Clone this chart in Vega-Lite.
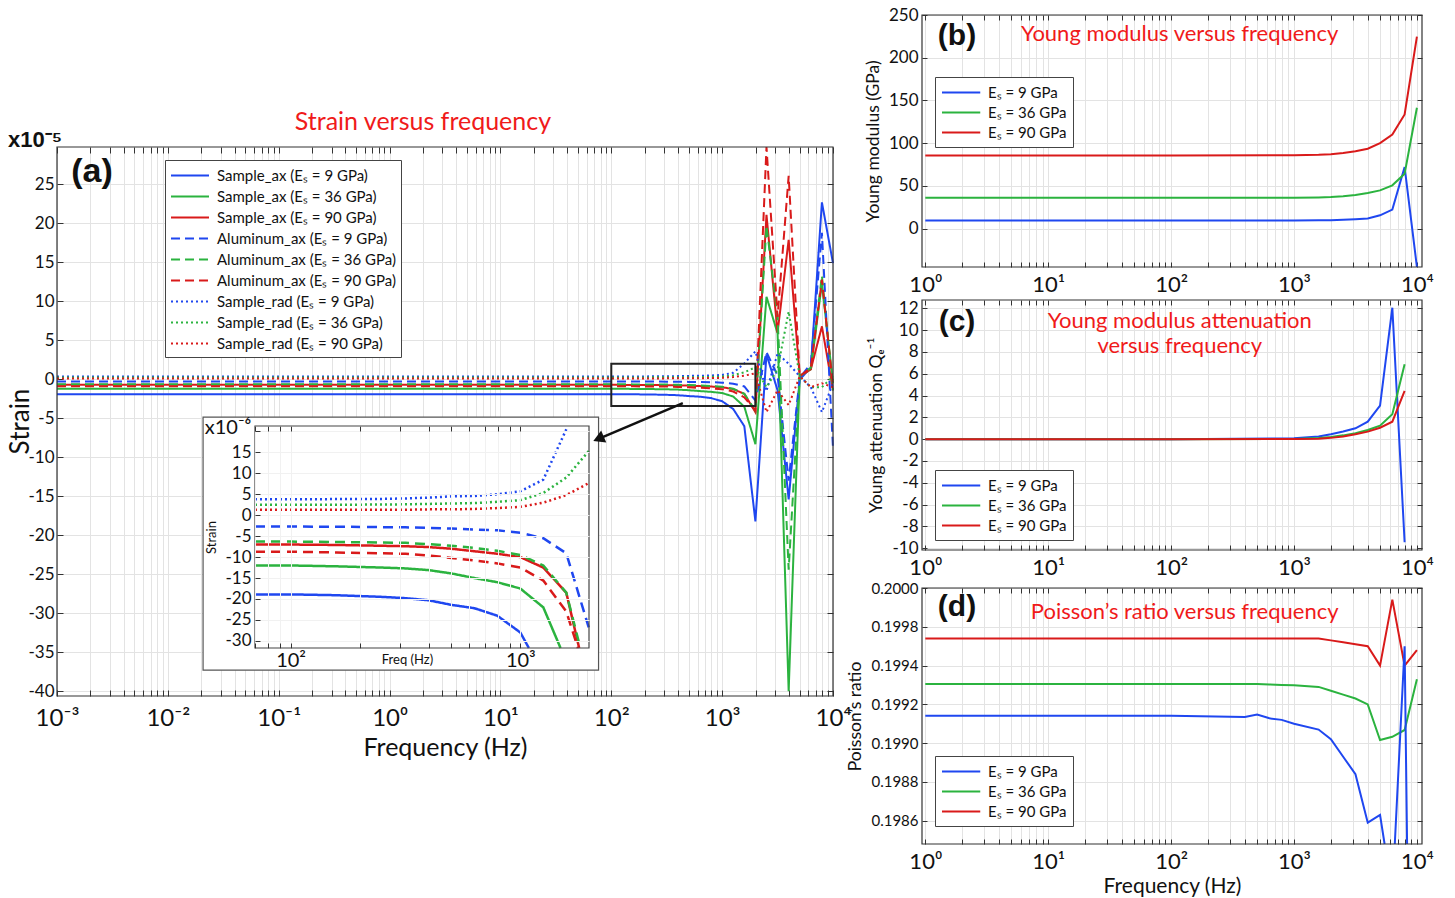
{
"$schema": "https://vega.github.io/schema/vega-lite/v6.json",
"width": 1455, "height": 898,
"autosize": {"type": "none"},
"padding": 0,
"resolve": {"scale": {"x": "independent", "y": "independent", "color": "independent", "strokeDash": "independent"}, "axis": {"x": "independent", "y": "independent"}, "legend": {"color": "independent", "strokeDash": "independent"}},
"datasets": {
"main": [
{"f": 0.001, "sax9": -1.89, "sax36": -1.20, "sax90": -0.70, "alx9": -0.27, "alx36": -0.63, "alx90": -0.87, "srad9": 0.38, "srad36": 0.25, "srad90": 0.13},
{"f": 1, "sax9": -1.89, "sax36": -1.20, "sax90": -0.70, "alx9": -0.27, "alx36": -0.63, "alx90": -0.87, "srad9": 0.38, "srad36": 0.25, "srad90": 0.13},
{"f": 100, "sax9": -1.89, "sax36": -1.20, "sax90": -0.70, "alx9": -0.27, "alx36": -0.63, "alx90": -0.87, "srad9": 0.38, "srad36": 0.25, "srad90": 0.13},
{"f": 158.5, "sax9": -1.91, "sax36": -1.22, "sax90": -0.71, "alx9": -0.28, "alx36": -0.64, "alx90": -0.89, "srad9": 0.38, "srad36": 0.25, "srad90": 0.13},
{"f": 251.2, "sax9": -1.95, "sax36": -1.25, "sax90": -0.73, "alx9": -0.28, "alx36": -0.65, "alx90": -0.91, "srad9": 0.39, "srad36": 0.26, "srad90": 0.13},
{"f": 316.2, "sax9": -1.98, "sax36": -1.27, "sax90": -0.74, "alx9": -0.29, "alx36": -0.66, "alx90": -0.92, "srad9": 0.40, "srad36": 0.26, "srad90": 0.13},
{"f": 398.1, "sax9": -2.03, "sax36": -1.31, "sax90": -0.76, "alx9": -0.30, "alx36": -0.69, "alx90": -0.96, "srad9": 0.42, "srad36": 0.27, "srad90": 0.14},
{"f": 501.2, "sax9": -2.14, "sax36": -1.39, "sax90": -0.80, "alx9": -0.32, "alx36": -0.73, "alx90": -1.02, "srad9": 0.45, "srad36": 0.28, "srad90": 0.14},
{"f": 631, "sax9": -2.22, "sax36": -1.50, "sax90": -0.86, "alx9": -0.34, "alx36": -0.78, "alx90": -1.08, "srad9": 0.46, "srad36": 0.29, "srad90": 0.15},
{"f": 794.3, "sax9": -2.40, "sax36": -1.60, "sax90": -0.92, "alx9": -0.36, "alx36": -0.85, "alx90": -1.15, "srad9": 0.50, "srad36": 0.32, "srad90": 0.17},
{"f": 1000, "sax9": -2.80, "sax36": -1.75, "sax90": -1.00, "alx9": -0.42, "alx36": -0.95, "alx90": -1.25, "srad9": 0.57, "srad36": 0.36, "srad90": 0.20},
{"f": 1258.9, "sax9": -3.80, "sax36": -2.20, "sax90": -1.25, "alx9": -0.55, "alx36": -1.20, "alx90": -1.56, "srad9": 0.85, "srad36": 0.53, "srad90": 0.30},
{"f": 1584.9, "sax9": -6.0, "sax36": -3.5, "sax90": -1.85, "alx9": -0.91, "alx36": -1.85, "alx90": -2.30, "srad9": 2.05, "srad36": 0.90, "srad90": 0.48},
{"f": 1995.3, "sax9": -18.2, "sax36": -8.3, "sax90": -4.2, "alx9": -2.7, "alx36": -4.0, "alx90": -4.0, "srad9": 3.6, "srad36": 1.55, "srad90": 0.78},
{"f": 2511.9, "sax9": 3.2, "sax36": 10.6, "sax90": 21.1, "alx9": 3.5, "alx36": 19.7, "alx90": 29.8, "srad9": -1.5, "srad36": -1.0, "srad90": -4.2},
{"f": 3162.3, "sax9": -1.4, "sax36": 5.9, "sax90": 6.0, "alx9": 0.5, "alx36": 8.0, "alx90": 8.0, "srad9": 3.3, "srad36": 1.3, "srad90": -1.4},
{"f": 3981.1, "sax9": -15.4, "sax36": -40.0, "sax90": 17.9, "alx9": -13.0, "alx36": -24.4, "alx90": 26.1, "srad9": 2.0, "srad36": 8.7, "srad90": -3.3},
{"f": 5011.9, "sax9": 0.0, "sax36": 0.4, "sax90": 0.4, "alx9": 0.2, "alx36": 0.4, "alx90": 0.4, "srad9": 0.4, "srad36": 0.4, "srad90": 0.4},
{"f": 6309.6, "sax9": 1.5, "sax36": 1.3, "sax90": 1.3, "alx9": 2.0, "alx36": 1.5, "alx90": 1.5, "srad9": -1.0, "srad36": -1.0, "srad90": -1.0},
{"f": 7943.3, "sax9": 22.7, "sax36": 12.3, "sax90": 6.8, "alx9": 18.8, "alx36": 13.3, "alx90": 12.8, "srad9": -4.2, "srad36": -1.0, "srad90": -0.5},
{"f": 10000, "sax9": 14.9, "sax36": -0.5, "sax90": -1.4, "alx9": -8.8, "alx36": -1.4, "alx90": -1.0, "srad9": -0.5, "srad36": 0.4, "srad90": -1.0}
],
"inset": [
{"f": 70, "sax9": -18.9, "sax36": -12.0, "sax90": -7.0, "alx9": -2.7, "alx36": -6.3, "alx90": -8.7, "srad9": 3.8, "srad36": 2.5, "srad90": 1.3},
{"f": 100, "sax9": -18.9, "sax36": -12.0, "sax90": -7.0, "alx9": -2.7, "alx36": -6.3, "alx90": -8.7, "srad9": 3.8, "srad36": 2.5, "srad90": 1.3},
{"f": 158.5, "sax9": -19.1, "sax36": -12.2, "sax90": -7.1, "alx9": -2.75, "alx36": -6.4, "alx90": -8.9, "srad9": 3.85, "srad36": 2.5, "srad90": 1.3},
{"f": 251.2, "sax9": -19.5, "sax36": -12.5, "sax90": -7.3, "alx9": -2.85, "alx36": -6.5, "alx90": -9.1, "srad9": 3.9, "srad36": 2.55, "srad90": 1.3},
{"f": 316.2, "sax9": -19.8, "sax36": -12.7, "sax90": -7.4, "alx9": -2.9, "alx36": -6.6, "alx90": -9.2, "srad9": 4.0, "srad36": 2.6, "srad90": 1.3},
{"f": 398.1, "sax9": -20.3, "sax36": -13.1, "sax90": -7.6, "alx9": -3.0, "alx36": -6.9, "alx90": -9.6, "srad9": 4.2, "srad36": 2.7, "srad90": 1.4},
{"f": 501.2, "sax9": -21.4, "sax36": -13.9, "sax90": -8.0, "alx9": -3.2, "alx36": -7.3, "alx90": -10.2, "srad9": 4.5, "srad36": 2.8, "srad90": 1.4},
{"f": 631, "sax9": -22.2, "sax36": -15.0, "sax90": -8.6, "alx9": -3.4, "alx36": -7.8, "alx90": -10.8, "srad9": 4.6, "srad36": 2.9, "srad90": 1.5},
{"f": 794.3, "sax9": -24.0, "sax36": -16.0, "sax90": -9.2, "alx9": -3.6, "alx36": -8.5, "alx90": -11.5, "srad9": 5.0, "srad36": 3.2, "srad90": 1.7},
{"f": 1000, "sax9": -28.0, "sax36": -17.5, "sax90": -10.0, "alx9": -4.2, "alx36": -9.5, "alx90": -12.5, "srad9": 5.7, "srad36": 3.6, "srad90": 2.0},
{"f": 1089, "sax9": -31.7},
{"f": 1258.9, "sax36": -22.0, "sax90": -12.5, "alx9": -5.5, "alx36": -12.0, "alx90": -15.6, "srad9": 8.5, "srad36": 5.3, "srad90": 3.0},
{"f": 1496, "sax36": -31.7},
{"f": 1584.9, "sax90": -18.5, "alx9": -9.1, "alx36": -18.5, "alx90": -23.0, "srad9": 20.5, "srad36": 9.0, "srad90": 4.8},
{"f": 1782, "alx90": -31.7},
{"f": 1803, "sax90": -31.7},
{"f": 1824, "alx36": -31.7},
{"f": 1990, "alx9": -27.0, "srad36": 15.4, "srad90": 7.7}
],
"b": [
{"f": 1, "e9": 9.3, "e36": 36.0, "e90": 85.5},
{"f": 10, "e9": 9.3, "e36": 36.0, "e90": 85.5},
{"f": 100, "e9": 9.3, "e36": 36.0, "e90": 85.5},
{"f": 1000, "e9": 9.5, "e36": 36.2, "e90": 85.8},
{"f": 1584.9, "e9": 9.7, "e36": 36.5, "e90": 86.3},
{"f": 1995.3, "e9": 9.8, "e36": 36.9, "e90": 87.0},
{"f": 2511.9, "e9": 10.2, "e36": 37.8, "e90": 88.5},
{"f": 3162.3, "e9": 10.8, "e36": 39.3, "e90": 90.5},
{"f": 3981.1, "e9": 11.7, "e36": 41.6, "e90": 93.4},
{"f": 5011.9, "e9": 15.5, "e36": 44.7, "e90": 100.0},
{"f": 6309.6, "e9": 22.2, "e36": 50.6, "e90": 110.0},
{"f": 7943.3, "e9": 72.0, "e36": 64.2, "e90": 133.5},
{"f": 10000, "e9": -45.0, "e36": 141.4, "e90": 224.6}
],
"c": [
{"f": 1, "e9": 0, "e36": 0, "e90": 0},
{"f": 10, "e9": 0, "e36": 0, "e90": 0},
{"f": 100, "e9": 0, "e36": 0, "e90": 0},
{"f": 1000, "e9": 0.08, "e36": 0.02, "e90": 0.01},
{"f": 1584.9, "e9": 0.25, "e36": 0.1, "e90": 0.05},
{"f": 1995.3, "e9": 0.45, "e36": 0.2, "e90": 0.12},
{"f": 2511.9, "e9": 0.7, "e36": 0.35, "e90": 0.25},
{"f": 3162.3, "e9": 1.0, "e36": 0.55, "e90": 0.45},
{"f": 3981.1, "e9": 1.6, "e36": 0.84, "e90": 0.69},
{"f": 5011.9, "e9": 3.07, "e36": 1.24, "e90": 1.05},
{"f": 6309.6, "e9": 12.05, "e36": 2.28, "e90": 1.6},
{"f": 7943.3, "e9": -9.45, "e36": 6.86, "e90": 4.42}
],
"d": [
{"f": 1, "e9a": 0.199141, "e36": 0.199305, "e90": 0.19954},
{"f": 100, "e9a": 0.199141, "e36": 0.199305, "e90": 0.19954},
{"f": 398.1, "e9a": 0.199135, "e36": 0.199305, "e90": 0.19954},
{"f": 501.2, "e9a": 0.199148, "e36": 0.199305, "e90": 0.19954},
{"f": 631, "e9a": 0.199128, "e36": 0.199303, "e90": 0.19954},
{"f": 794.3, "e9a": 0.19912, "e36": 0.1993, "e90": 0.19954},
{"f": 1000, "e9a": 0.1991, "e36": 0.199298, "e90": 0.19954},
{"f": 1584.9, "e9a": 0.19907, "e36": 0.19929, "e90": 0.19954},
{"f": 1995.3, "e9a": 0.19902, "e36": 0.19927, "e90": 0.19953},
{"f": 2511.9, "e9a": 0.19893, "e36": 0.19925, "e90": 0.19952},
{"f": 3162.3, "e9a": 0.19884, "e36": 0.19923, "e90": 0.19951},
{"f": 3981.1, "e9a": 0.19859, "e36": 0.1992, "e90": 0.1995},
{"f": 5011.9, "e9a": 0.19863, "e36": 0.199016, "e90": 0.1994},
{"f": 5458, "e9a": 0.19848},
{"f": 6309.6, "e36": 0.199033, "e90": 0.19974},
{"f": 6607, "e9b": 0.19848},
{"f": 7943.3, "e9b": 0.1995, "e36": 0.199068, "e90": 0.1994},
{"f": 8318, "e9b": 0.19848},
{"f": 10000, "e36": 0.199329, "e90": 0.19948}
]
},
"layer": [
{
"encoding": {
"x": {"field": "f", "type": "quantitative", "scale": {"type": "log", "domain": [0.001, 10000], "range": [57, 833], "nice": false},
"axis": {"orient": "bottom", "offset": -202, "values": [0.001,0.002,0.003,0.004,0.005,0.006,0.007,0.008,0.009,0.01,0.02,0.03,0.04,0.05,0.06,0.07,0.08,0.09,0.1,0.2,0.3,0.4,0.5,0.6,0.7,0.8,0.9,1,2,3,4,5,6,7,8,9,10,20,30,40,50,60,70,80,90,100,200,300,400,500,600,700,800,900,1000,2000,3000,4000,5000,6000,7000,8000,9000,10000],
"labelExpr": "abs(log(datum.value)/LN10 - round(log(datum.value)/LN10)) < 0.01 ? '10' + ['⁻³','⁻²','⁻¹','⁰','¹','²','³','⁴'][round(log(datum.value)/LN10)+3] : ''",
"labelFontSize": 24, "tickSize": -6, "labelPadding": 16, "grid": false, "domain": false, "title": "Frequency (Hz)", "titleFontSize": 25, "titlePadding": 5}},
"y": {"field": "v", "type": "quantitative", "scale": {"domain": [-40.6, 29.8], "range": [696, 147], "nice": false, "zero": false},
"axis": {"orient": "left", "offset": -57, "values": [-40,-35,-30,-25,-20,-15,-10,-5,0,5,10,15,20,25], "labelExpr": "datum.value + ''", "labelFontSize": 17, "tickSize": -6, "labelPadding": 9, "grid": true, "domain": false, "title": "Strain", "titleFontSize": 26, "titleX": -37, "titleY": 421, "titleBaseline": "middle", "titleAlign": "center", "titleAngle": -90}}
},
"layer": [
{
"data": {"name": "main"},
"transform": [{"fold": ["sax9","sax36","sax90","alx9","alx36","alx90","srad9","srad36","srad90"], "as": ["s", "v"]}, {"filter": "isValid(datum.v)"}],
"mark": {"type": "line", "strokeWidth": 2},
"encoding": {
"color": {"field": "s", "type": "nominal",
"scale": {"domain": ["sax9","sax36","sax90","alx9","alx36","alx90","srad9","srad36","srad90"], "range": ["#1f47f0","#2bb33f","#d91a1a","#1f47f0","#2bb33f","#d91a1a","#1f47f0","#2bb33f","#d91a1a"]},
"legend": {"orient": "none", "legendX": 165, "legendY": 160, "title": null, "symbolType": "M-1,0H3", "symbolSize": 361, "symbolStrokeWidth": 2, "labelFontSize": 15, "labelLimit": 300, "rowPadding": 2, "padding": 5, "strokeColor": "#444", "fillColor": "#ffffff", "labelOffset": 26,
"labelExpr": "{'sax9':'Sample_ax (Eₛ = 9 GPa)','sax36':'Sample_ax (Eₛ = 36 GPa)','sax90':'Sample_ax (Eₛ = 90 GPa)','alx9':'Aluminum_ax (Eₛ = 9 GPa)','alx36':'Aluminum_ax (Eₛ = 36 GPa)','alx90':'Aluminum_ax (Eₛ = 90 GPa)','srad9':'Sample_rad (Eₛ = 9 GPa)','srad36':'Sample_rad (Eₛ = 36 GPa)','srad90':'Sample_rad (Eₛ = 90 GPa)'}[datum.label]"}},
"strokeDash": {"field": "s", "type": "nominal",
"scale": {"domain": ["sax9","sax36","sax90","alx9","alx36","alx90","srad9","srad36","srad90"], "range": [[1,0],[1,0],[1,0],[9,5],[9,5],[9,5],[2,3],[2,3],[2,3]]},
"legend": {"orient": "none", "legendX": 165, "legendY": 160, "title": null, "symbolType": "M-1,0H3", "symbolSize": 361, "symbolStrokeWidth": 2, "labelFontSize": 15, "labelLimit": 300, "rowPadding": 2, "padding": 5, "strokeColor": "#444", "fillColor": "#ffffff", "labelOffset": 26,
"labelExpr": "{'sax9':'Sample_ax (Eₛ = 9 GPa)','sax36':'Sample_ax (Eₛ = 36 GPa)','sax90':'Sample_ax (Eₛ = 90 GPa)','alx9':'Aluminum_ax (Eₛ = 9 GPa)','alx36':'Aluminum_ax (Eₛ = 36 GPa)','alx90':'Aluminum_ax (Eₛ = 90 GPa)','srad9':'Sample_rad (Eₛ = 9 GPa)','srad36':'Sample_rad (Eₛ = 36 GPa)','srad90':'Sample_rad (Eₛ = 90 GPa)'}[datum.label]"}}
}
},
{
"data": {"values": [{"f": 100, "f2": 1995, "v": -3.4, "v2": 2.0}]},
"mark": {"type": "rect", "fill": "transparent", "stroke": "#222", "strokeWidth": 2},
"encoding": {"x2": {"field": "f2"}, "y2": {"field": "v2"}}
},
{
"data": {"values": [{"f": 0.00207, "v": 26.6, "t": "(a)"}]},
"mark": {"type": "text", "font": "Liberation Sans", "fontWeight": "bold", "fontSize": 34, "align": "center", "baseline": "middle", "color": "#111"},
"encoding": {"text": {"field": "t"}}
},
{
"data": {"values": [{"f": 0.000634, "v": 30.7, "t": "x10⁻⁵"}]},
"mark": {"type": "text", "font": "Liberation Sans", "fontWeight": "bold", "fontSize": 22, "align": "center", "baseline": "middle", "color": "#111"},
"encoding": {"text": {"field": "t"}}
},
{
"data": {"values": [{"f": 2.0, "v": 33.0, "t": "Strain versus frequency"}]},
"mark": {"type": "text", "fontSize": 25, "align": "center", "baseline": "middle", "color": "#f01a1a"},
"encoding": {"text": {"field": "t"}}
}
]
},
{
"data": {"values": [{"f": 0.001, "f2": 10000, "v": -40.6, "v2": 29.8}]},
"mark": {"type": "rect", "fill": "transparent", "stroke": "#333", "strokeWidth": 1.2},
"encoding": {
"x": {"field": "f", "type": "quantitative", "scale": {"type": "log", "domain": [0.001, 10000], "range": [57, 833], "nice": false},
"axis": {"orient": "top", "offset": -147, "values": [0.001,0.002,0.003,0.004,0.005,0.006,0.007,0.008,0.009,0.01,0.02,0.03,0.04,0.05,0.06,0.07,0.08,0.09,0.1,0.2,0.3,0.4,0.5,0.6,0.7,0.8,0.9,1,2,3,4,5,6,7,8,9,10,20,30,40,50,60,70,80,90,100,200,300,400,500,600,700,800,900,1000,2000,3000,4000,5000,6000,7000,8000,9000,10000], "labels": false, "tickSize": -6, "grid": true, "domain": false, "title": null}},
"x2": {"field": "f2"},
"y": {"field": "v", "type": "quantitative", "scale": {"domain": [-40.6, 29.8], "range": [696, 147], "nice": false, "zero": false},
"axis": {"orient": "right", "offset": -622, "values": [-40,-35,-30,-25,-20,-15,-10,-5,0,5,10,15,20,25], "labels": false, "tickSize": -6, "grid": false, "domain": false, "title": null}},
"y2": {"field": "v2"}
}
},
{
"encoding": {
"x": {"field": "f", "type": "quantitative", "scale": {"type": "log", "domain": [70, 1990], "range": [255, 589], "nice": false},
"axis": {"orient": "bottom", "offset": -250, "zindex": 2, "values": [70,80,90,100,200,300,400,500,600,700,800,900,1000], "labelExpr": "datum.value == 100 ? '10²' : (datum.value == 1000 ? '10³' : '')", "tickSize": -5, "labelPadding": 7, "labelFontSize": 20, "grid": false, "domain": false, "title": "Freq (Hz)", "titleFontSize": 13, "titleX": 407, "titleY": 11, "titleBaseline": "middle", "titleAlign": "center"}},
"y": {"field": "v", "type": "quantitative", "scale": {"domain": [-31.7, 21.3], "range": [648, 426], "nice": false, "zero": false},
"axis": {"orient": "left", "offset": -255, "zindex": 2, "values": [-30,-25,-20,-15,-10,-5,0,5,10,15,20], "labelExpr": "datum.value == 20 ? '' : datum.value + ''", "tickSize": -5, "labelPadding": 9, "labelFontSize": 17, "grid": true, "gridColor": "#f1f1f1", "domain": false, "title": "Strain", "titleFontSize": 13, "titlePadding": 6}}
},
"layer": [
{
"data": {"values": [{"f": 41.6, "f2": 2190, "v": -37, "v2": 23.4}]},
"mark": {"type": "rect", "fill": "#ffffff", "stroke": "#555", "strokeWidth": 1.2},
"encoding": {"x2": {"field": "f2"}, "y2": {"field": "v2"}}
},
{
"data": {"name": "inset"},
"transform": [{"fold": ["sax9","sax36","sax90","alx9","alx36","alx90","srad9","srad36","srad90"], "as": ["s", "v"]}, {"filter": "isValid(datum.v)"}],
"mark": {"type": "line", "strokeWidth": 2.5},
"encoding": {
"color": {"field": "s", "type": "nominal", "legend": null,
"scale": {"domain": ["sax9","sax36","sax90","alx9","alx36","alx90","srad9","srad36","srad90"], "range": ["#1f47f0","#2bb33f","#d91a1a","#1f47f0","#2bb33f","#d91a1a","#1f47f0","#2bb33f","#d91a1a"]}},
"strokeDash": {"field": "s", "type": "nominal", "legend": null,
"scale": {"domain": ["sax9","sax36","sax90","alx9","alx36","alx90","srad9","srad36","srad90"], "range": [[1,0],[1,0],[1,0],[10,6],[10,6],[10,6],[2,3],[2,3],[2,3]]}}
}
},
{
"data": {"values": [{"f": 53.4, "v": 20.8, "t": "x10⁻⁶"}]},
"mark": {"type": "text", "fontSize": 20, "align": "center", "baseline": "middle", "color": "#111"},
"encoding": {"text": {"field": "t"}}
}
]
},
{
"data": {"values": [{"f": 70, "f2": 1990, "v": -31.7, "v2": 21.3}]},
"mark": {"type": "rect", "fill": "transparent", "stroke": "#444", "strokeWidth": 1.2},
"encoding": {
"x": {"field": "f", "type": "quantitative", "scale": {"type": "log", "domain": [70, 1990], "range": [255, 589], "nice": false},
"axis": {"orient": "top", "offset": -426, "zindex": 2, "values": [70,80,90,100,200,300,400,500,600,700,800,900,1000], "labels": false, "tickSize": -5, "grid": true, "gridColor": "#f1f1f1", "domain": false, "title": null}},
"x2": {"field": "f2"},
"y": {"field": "v", "type": "quantitative", "scale": {"domain": [-31.7, 21.3], "range": [648, 426], "nice": false, "zero": false}, "axis": null},
"y2": {"field": "v2"}
}
},
{
"encoding": {
"x": {"field": "f", "type": "quantitative", "scale": {"type": "log", "domain": [0.001, 10000], "range": [57, 833], "nice": false}, "axis": null},
"y": {"field": "v", "type": "quantitative", "scale": {"domain": [-40.6, 29.8], "range": [696, 147], "nice": false, "zero": false}, "axis": null}
},
"layer": [
{
"data": {"values": [{"f": 442, "v": -3.04, "f2": 76.7, "v2": -7.62}]},
"mark": {"type": "rule", "color": "#111", "strokeWidth": 2.5},
"encoding": {"x2": {"field": "f2"}, "y2": {"field": "v2"}}
},
{
"data": {"values": [{"f": 76.7, "v": -7.62}]},
"mark": {"type": "point", "shape": "triangle-up", "angle": 247, "filled": true, "color": "#111", "size": 170, "opacity": 1}
}
]
},
{
"encoding": {
"x": {"field": "f", "type": "quantitative", "scale": {"type": "log", "domain": [0.94, 11000], "range": [922, 1422], "nice": false},
"axis": {"orient": "bottom", "offset": -631, "values": [1,2,3,4,5,6,7,8,9,10,20,30,40,50,60,70,80,90,100,200,300,400,500,600,700,800,900,1000,2000,3000,4000,5000,6000,7000,8000,9000,10000], "labelExpr": "abs(log(datum.value)/LN10 - round(log(datum.value)/LN10)) < 0.01 ? '10' + ['⁰','¹','²','³','⁴'][round(log(datum.value)/LN10)] : ''", "labelFontSize": 22, "tickSize": -5, "labelPadding": 12, "grid": false, "domain": false, "title": null}},
"y": {"field": "v", "type": "quantitative", "scale": {"domain": [-45, 250], "range": [267, 15], "nice": false, "zero": false},
"axis": {"orient": "left", "offset": -922, "values": [0,50,100,150,200,250], "labelExpr": "datum.value + ''", "labelFontSize": 17, "tickSize": -5, "labelPadding": 9, "grid": true, "domain": false, "title": "Young modulus (GPa)", "titleFontSize": 17.5, "titlePadding": 6}}
},
"layer": [
{
"data": {"name": "b"},
"transform": [{"fold": ["e9","e36","e90"], "as": ["s", "v"]}],
"mark": {"type": "line", "strokeWidth": 2},
"encoding": {"color": {"field": "s", "type": "nominal", "scale": {"domain": ["e9","e36","e90"], "range": ["#1f47f0","#2bb33f","#d91a1a"]},
"legend": {"orient": "none", "legendX": 935, "legendY": 77, "title": null, "symbolType": "M-1,0H3.5", "symbolSize": 289, "symbolStrokeWidth": 2, "labelFontSize": 15, "rowPadding": 2, "padding": 6, "strokeColor": "#444", "fillColor": "#ffffff", "labelOffset": 28, "labelExpr": "{'e9':'Eₛ = 9 GPa','e36':'Eₛ = 36 GPa','e90':'Eₛ = 90 GPa'}[datum.label]"}}}
},
{
"data": {"values": [{"f": 1.81, "v": 226, "t": "(b)"}]},
"mark": {"type": "text", "font": "Liberation Sans", "fontWeight": "bold", "fontSize": 30, "align": "center", "baseline": "middle", "color": "#111"},
"encoding": {"text": {"field": "t"}}
},
{
"data": {"values": [{"f": 117.6, "v": 228, "t": "Young modulus versus frequency"}]},
"mark": {"type": "text", "fontSize": 22, "align": "center", "baseline": "middle", "color": "#f01a1a"},
"encoding": {"text": {"field": "t"}}
}
]
},
{
"data": {"values": [{"f": 0.94, "f2": 11000, "v": -45, "v2": 250}]},
"mark": {"type": "rect", "fill": "transparent", "stroke": "#333", "strokeWidth": 1.2},
"encoding": {
"x": {"field": "f", "type": "quantitative", "scale": {"type": "log", "domain": [0.94, 11000], "range": [922, 1422], "nice": false},
"axis": {"orient": "top", "offset": -15, "values": [1,2,3,4,5,6,7,8,9,10,20,30,40,50,60,70,80,90,100,200,300,400,500,600,700,800,900,1000,2000,3000,4000,5000,6000,7000,8000,9000,10000], "labels": false, "tickSize": -5, "grid": true, "domain": false, "title": null}},
"x2": {"field": "f2"},
"y": {"field": "v", "type": "quantitative", "scale": {"domain": [-45, 250], "range": [267, 15], "nice": false, "zero": false},
"axis": {"orient": "right", "offset": -33, "values": [0,50,100,150,200,250], "labels": false, "tickSize": -5, "grid": false, "domain": false, "title": null}},
"y2": {"field": "v2"}
}
},
{
"encoding": {
"x": {"field": "f", "type": "quantitative", "scale": {"type": "log", "domain": [0.94, 11000], "range": [922, 1422], "nice": false},
"axis": {"orient": "bottom", "offset": -348, "values": [1,2,3,4,5,6,7,8,9,10,20,30,40,50,60,70,80,90,100,200,300,400,500,600,700,800,900,1000,2000,3000,4000,5000,6000,7000,8000,9000,10000], "labelExpr": "abs(log(datum.value)/LN10 - round(log(datum.value)/LN10)) < 0.01 ? '10' + ['⁰','¹','²','³','⁴'][round(log(datum.value)/LN10)] : ''", "labelFontSize": 22, "tickSize": -5, "labelPadding": 12, "grid": false, "domain": false, "title": null}},
"y": {"field": "v", "type": "quantitative", "scale": {"domain": [-10.16, 12.76], "range": [550, 300], "nice": false, "zero": false},
"axis": {"orient": "left", "offset": -922, "values": [-10,-8,-6,-4,-2,0,2,4,6,8,10,12], "labelExpr": "datum.value + ''", "labelFontSize": 17, "tickSize": -5, "labelPadding": 9, "grid": true, "domain": false, "title": "Young attenuation  Qₑ⁻¹", "titleFontSize": 17.5, "titlePadding": 6}}
},
"layer": [
{
"data": {"name": "c"},
"transform": [{"fold": ["e9","e36","e90"], "as": ["s", "v"]}],
"mark": {"type": "line", "strokeWidth": 2},
"encoding": {"color": {"field": "s", "type": "nominal", "scale": {"domain": ["e9","e36","e90"], "range": ["#1f47f0","#2bb33f","#d91a1a"]},
"legend": {"orient": "none", "legendX": 935, "legendY": 470, "title": null, "symbolType": "M-1,0H3.5", "symbolSize": 289, "symbolStrokeWidth": 2, "labelFontSize": 15, "rowPadding": 2, "padding": 6, "strokeColor": "#444", "fillColor": "#ffffff", "labelOffset": 28, "labelExpr": "{'e9':'Eₛ = 9 GPa','e36':'Eₛ = 36 GPa','e90':'Eₛ = 90 GPa'}[datum.label]"}}}
},
{
"data": {"values": [{"f": 1.81, "v": 10.74, "t": "(c)"}]},
"mark": {"type": "text", "font": "Liberation Sans", "fontWeight": "bold", "fontSize": 30, "align": "center", "baseline": "middle", "color": "#111"},
"encoding": {"text": {"field": "t"}}
},
{
"data": {"values": [{"f": 117.6, "v": 10.83, "t": "Young modulus attenuation\nversus frequency"}]},
"mark": {"type": "text", "fontSize": 22, "lineHeight": 25, "lineBreak": "\n", "align": "center", "baseline": "middle", "color": "#f01a1a"},
"encoding": {"text": {"field": "t"}}
}
]
},
{
"data": {"values": [{"f": 0.94, "f2": 11000, "v": -10.16, "v2": 12.76}]},
"mark": {"type": "rect", "fill": "transparent", "stroke": "#333", "strokeWidth": 1.2},
"encoding": {
"x": {"field": "f", "type": "quantitative", "scale": {"type": "log", "domain": [0.94, 11000], "range": [922, 1422], "nice": false},
"axis": {"orient": "top", "offset": -300, "values": [1,2,3,4,5,6,7,8,9,10,20,30,40,50,60,70,80,90,100,200,300,400,500,600,700,800,900,1000,2000,3000,4000,5000,6000,7000,8000,9000,10000], "labels": false, "tickSize": -5, "grid": true, "domain": false, "title": null}},
"x2": {"field": "f2"},
"y": {"field": "v", "type": "quantitative", "scale": {"domain": [-10.16, 12.76], "range": [550, 300], "nice": false, "zero": false},
"axis": {"orient": "right", "offset": -33, "values": [-10,-8,-6,-4,-2,0,2,4,6,8,10,12], "labels": false, "tickSize": -5, "grid": false, "domain": false, "title": null}},
"y2": {"field": "v2"}
}
},
{
"encoding": {
"x": {"field": "f", "type": "quantitative", "scale": {"type": "log", "domain": [0.94, 11000], "range": [922, 1422], "nice": false},
"axis": {"orient": "bottom", "offset": -54, "values": [1,2,3,4,5,6,7,8,9,10,20,30,40,50,60,70,80,90,100,200,300,400,500,600,700,800,900,1000,2000,3000,4000,5000,6000,7000,8000,9000,10000], "labelExpr": "abs(log(datum.value)/LN10 - round(log(datum.value)/LN10)) < 0.01 ? '10' + ['⁰','¹','²','³','⁴'][round(log(datum.value)/LN10)] : ''", "labelFontSize": 22, "tickSize": -5, "labelPadding": 12, "grid": false, "domain": false, "title": "Frequency (Hz)", "titleFontSize": 21, "titlePadding": 3}},
"y": {"field": "v", "type": "quantitative", "scale": {"domain": [0.19848, 0.1998], "range": [844, 588], "nice": false, "zero": false},
"axis": {"orient": "left", "offset": -922, "values": [0.1986,0.1988,0.199,0.1992,0.1994,0.1996,0.1998], "labelExpr": "datum.value > 0.19975 ? '0.2000' : (datum.value > 0.19955 ? '0.1998' : format(datum.value, '.4f'))", "labelFontSize": 15, "tickSize": -5, "labelPadding": 9, "grid": true, "domain": false, "title": "Poisson’s ratio", "titleFontSize": 17.5, "titlePadding": 6}}
},
"layer": [
{
"data": {"name": "d"},
"transform": [{"fold": ["e9a","e9b","e36","e90"], "as": ["s", "v"]}, {"filter": "isValid(datum.v)"}],
"mark": {"type": "line", "strokeWidth": 2},
"encoding": {"color": {"field": "s", "type": "nominal", "scale": {"domain": ["e9a","e9b","e36","e90"], "range": ["#1f47f0","#1f47f0","#2bb33f","#d91a1a"]},
"legend": {"orient": "none", "legendX": 935, "legendY": 756, "values": ["e9a","e36","e90"], "title": null, "symbolType": "M-1,0H3.5", "symbolSize": 289, "symbolStrokeWidth": 2, "labelFontSize": 15, "rowPadding": 2, "padding": 6, "strokeColor": "#444", "fillColor": "#ffffff", "labelOffset": 28, "labelExpr": "{'e9a':'Eₛ = 9 GPa','e36':'Eₛ = 36 GPa','e90':'Eₛ = 90 GPa'}[datum.label]"}}}
},
{
"data": {"values": [{"f": 1.81, "v": 0.1997, "t": "(d)"}]},
"mark": {"type": "text", "font": "Liberation Sans", "fontWeight": "bold", "fontSize": 30, "align": "center", "baseline": "middle", "color": "#111"},
"encoding": {"text": {"field": "t"}}
},
{
"data": {"values": [{"f": 129, "v": 0.199676, "t": "Poisson’s ratio versus frequency"}]},
"mark": {"type": "text", "fontSize": 22, "align": "center", "baseline": "middle", "color": "#f01a1a"},
"encoding": {"text": {"field": "t"}}
}
]
},
{
"data": {"values": [{"f": 0.94, "f2": 11000, "v": 0.19848, "v2": 0.1998}]},
"mark": {"type": "rect", "fill": "transparent", "stroke": "#333", "strokeWidth": 1.2},
"encoding": {
"x": {"field": "f", "type": "quantitative", "scale": {"type": "log", "domain": [0.94, 11000], "range": [922, 1422], "nice": false},
"axis": {"orient": "top", "offset": -588, "values": [1,2,3,4,5,6,7,8,9,10,20,30,40,50,60,70,80,90,100,200,300,400,500,600,700,800,900,1000,2000,3000,4000,5000,6000,7000,8000,9000,10000], "labels": false, "tickSize": -5, "grid": true, "domain": false, "title": null}},
"x2": {"field": "f2"},
"y": {"field": "v", "type": "quantitative", "scale": {"domain": [0.19848, 0.1998], "range": [844, 588], "nice": false, "zero": false},
"axis": {"orient": "right", "offset": -33, "values": [0.1986,0.1988,0.199,0.1992,0.1994,0.1996,0.1998], "labels": false, "tickSize": -5, "grid": false, "domain": false, "title": null}},
"y2": {"field": "v2"}
}
}
],
"config": {
"font": "Lato",
"view": {"stroke": null},
"axis": {"domainColor": "#333", "tickColor": "#333", "labelColor": "#111", "titleColor": "#111", "gridColor": "#e3e3e3", "labelFont": "Lato", "titleFont": "Lato", "titleFontWeight": "normal", "labelOverlap": false, "labelFlush": false, "labelBound": false},
"legend": {"labelFont": "Lato", "labelColor": "#111"},
"text": {"font": "Lato"}
}
}
